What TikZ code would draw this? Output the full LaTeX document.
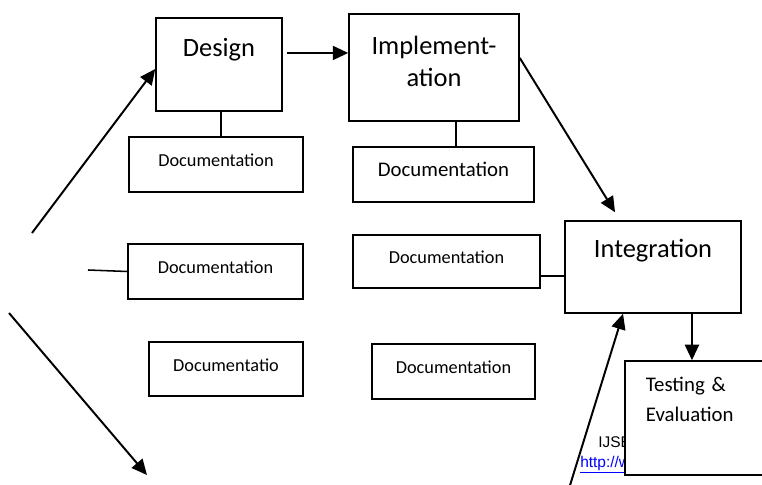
\documentclass[tikz,border=0pt]{standalone}
\usepackage{fontspec}
\setmainfont{Carlito}
\newfontfamily\webfont{Liberation Sans}
\usetikzlibrary{arrows.meta}

\begin{document}
\begin{tikzpicture}[x=0.025cm, y=-0.025cm,
  stage/.style={draw, line width=1.1pt, inner sep=0pt, font=\fontsize{18.8}{22.8}\selectfont},
  doc/.style={draw, line width=1.1pt, inner sep=0pt, text height=11pt, text depth=8pt, font=\fontsize{13}{15}\selectfont},
  arr/.style={-{Triangle[length=11pt,width=10pt]}, line width=1.4pt},
  link/.style={line width=1.1pt}]
\useasboundingbox (0,0) rectangle (762,485);
\clip (0,0) rectangle (762,485);

% Stages
\node[stage, minimum width=89.6pt, minimum height=66.2pt, text height=4pt, text depth=16pt] (design) at (219,64.5) {Design};
\node[stage, align=center, minimum width=120.9pt, minimum height=76.1pt, text height=30.5pt, text depth=4pt] (impl) at (434,67.5) {Implement-\\ation};
\node[stage, minimum width=125.2pt, minimum height=65.4pt, text height=2pt, text depth=16.2pt] (integ) at (653,267) {Integration};

% Documentation boxes
\node[doc, minimum width=123.8pt, minimum height=39.1pt] (ddoc) at (216,164.5) {Documentation};
\node[doc, font=\fontsize{14.8}{17}\selectfont, minimum width=128.7pt, minimum height=39.1pt] (idoc) at (443.5,174.5) {Documentation};
\node[doc, minimum width=124.5pt, minimum height=39.1pt] (ldoc) at (215.5,271.5) {Documentation};
\node[doc, minimum width=133pt, minimum height=37.7pt] (rdoc) at (446.5,261.5) {Documentation};
\node[doc, minimum width=109.5pt, minimum height=38.4pt] (lldoc) at (226,369) {Documentatio};
\node[doc, minimum width=115.9pt, minimum height=39.1pt] (lrdoc) at (453.5,371.5) {Documentation};

% Footer text behind the last box
\node[font=\webfont\fontsize{11}{13}\selectfont, anchor=base west, inner sep=0pt] (ijse) at (598,447) {IJSE};
\node[font=\webfont\fontsize{11}{13}\selectfont, text=blue, anchor=base west, inner sep=0pt] (url) at (580,467) {\underline{http://w}};

\node[stage, fill=white, font=\fontsize{14.8}{21.3}\selectfont, align=left, text width=76.9pt, inner xsep=14.9pt, minimum width=106.7pt, minimum height=81.1pt, text height=2pt, text depth=39pt] (test) at (700,418) {Testing \&\\Evaluation};

% Free ends
\coordinate (inL) at (32,233);
\coordinate (outA) at (9,313);
\coordinate (outB) at (147,475);
\coordinate (inB) at (567,495);
\coordinate (stub) at (88,270);

% Arrows
\draw[arr] (inL) -- ([yshift=-3.2pt]design.west);
\draw[arr] ([xshift=2.8pt,yshift=8.2pt]design.east) -- ([yshift=8.2pt]design.east -| impl.west);
\draw[arr] ([yshift=6.8pt]impl.east) -- ([xshift=-27pt,yshift=5.7pt]integ.north);
\draw[arr] ([xshift=27.7pt]integ.south) -- ([xshift=27.7pt]integ.south |- test.north);
\draw[arr] (inB) -- ([xshift=-21.3pt]integ.south);
\draw[arr] (outA) -- (outB);

% Links to documentation
\draw[link] ([xshift=1.4pt]design.south) -- ([xshift=1.4pt]design.south |- ddoc.north);
\draw[link] ([xshift=15.6pt]impl.south) -- ([xshift=15.6pt]impl.south |- idoc.north);
\draw[link] ([yshift=-10.3pt]rdoc.east) -- ([yshift=-10.3pt]rdoc.east -| integ.west);
\draw[link] (stub) -- (ldoc.west);

\end{tikzpicture}
\end{document}
